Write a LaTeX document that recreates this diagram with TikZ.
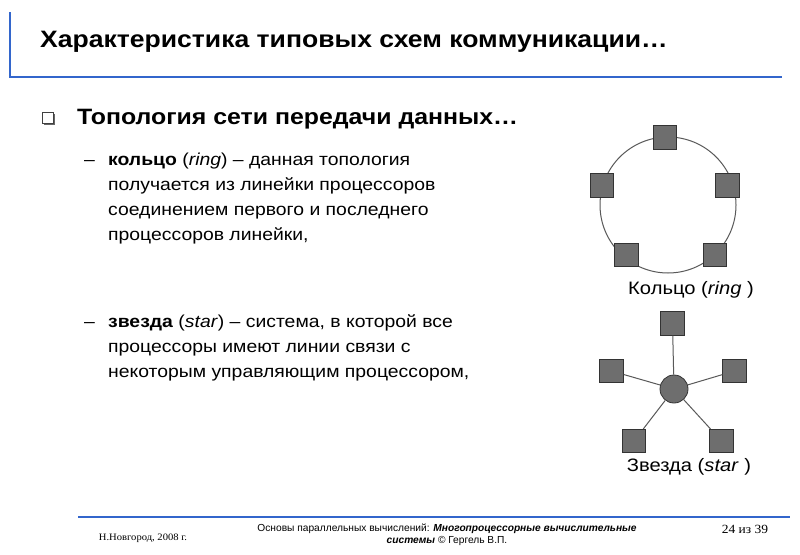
\documentclass[tikz,border=0pt]{standalone}
\usepackage{fontspec}
\setmainfont[FakeStretch=1.12]{Liberation Sans}
\newfontfamily\serifnf[FakeStretch=1.08]{Liberation Serif}
\newfontfamily\footsans{Liberation Sans}
\definecolor{slideblue}{RGB}{51,102,204}
\definecolor{boxgray}{RGB}{110,110,110}
\begin{document}
\begin{tikzpicture}[x=1pt,y=-1pt,
  proc/.style={draw=black!80, fill=boxgray, minimum size=23.5pt, inner sep=0pt, line width=0.8pt},
  hub/.style={circle, draw=black!80, fill=boxgray, minimum size=28pt, inner sep=0pt, line width=0.8pt},
  link/.style={draw=black!65, line width=1pt},
  body/.style={anchor=base west, inner sep=0pt, font=\fontsize{17.3}{20}\selectfont},
  caption/.style={inner sep=0pt, font=\fontsize{18}{21}\selectfont},
  rule/.style={draw=slideblue, line width=2.2pt}]
\useasboundingbox[fill=white] (0,0) rectangle (800,554);

% title
\draw[rule] (10,12) -- (10,77) -- (782,77);
\node[anchor=base west, inner sep=0pt, font=\bfseries\fontsize{23.7}{28}\selectfont] (title) at (40,47) {Характеристика типовых схем коммуникации…};

% subtitle with box bullet
\fill[black!60] (44,114) rectangle (55,125);
\draw[black!75, fill=white, line width=0.8pt] (42,112) rectangle (53,123);
\node[anchor=base west, inner sep=0pt, font=\bfseries\fontsize{22.2}{24}\selectfont] (sub) at (77,124) {Топология сети передачи данных…};

% ring text
\node[body] (d1) at (84,165) {–};
\node[body] (r1) at (108,165) {\textbf{кольцо} (\textit{ring}) – данная топология};
\node[body] (r2) at (108,190.5) {получается из линейки процессоров};
\node[body] (r3) at (108,215.5) {соединением первого и последнего};
\node[body] (r4) at (108,240.5) {процессоров линейки,};

% star text
\node[body] (d2) at (84,327) {–};
\node[body] (s1) at (108,327) {\textbf{звезда} (\textit{star}) – система, в которой все};
\node[body] (s2) at (108,352) {процессоры имеют линии связи с};
\node[body] (s3) at (108,377) {некоторым управляющим процессором,};

% ring diagram
\coordinate (rc) at (668,205);
\draw[link] (rc) circle[radius=68pt];
\node[proc] (ra) at (665,137.5) {};
\node[proc] (rb) at (602,185.5) {};
\node[proc] (rcn) at (727.5,185.5) {};
\node[proc] (rd) at (626.5,255) {};
\node[proc] (re) at (715,255) {};
\node[caption] (rlab) at (691,290) {Кольцо (\textit{ring} )};

% star diagram
\node[proc] (sa) at (672.5,323.5) {};
\node[proc] (sb) at (611.5,371) {};
\node[proc] (sc) at (734.5,371) {};
\node[proc] (sd) at (634,441) {};
\node[proc] (se) at (721.5,441) {};
\node[hub] (hub) at (674,389) {};
\foreach \t in {sa,sb,sc,sd,se} \draw[link] (hub) -- (\t);
\node[caption] (slab) at (689,467) {Звезда (\textit{star} )};

% footer
\draw[rule, line width=2.6pt] (78,517) -- (790,517);
\node[inner sep=0pt, font=\serifnf\fontsize{9.8}{12}\selectfont] (fl) at (143,538) {Н.Новгород, 2008 г.};
\node[inner sep=0pt, align=center, font=\footsans\fontsize{10.2}{12.5}\selectfont] (fc) at (447,535) {Основы параллельных вычислений: \textbf{\textit{Многопроцессорные вычислительные}}\\\textbf{\textit{системы}} © Гергель В.П.};
\node[inner sep=0pt, font=\serifnf\fontsize{12.5}{14}\selectfont] (fr) at (745,529) {24 из 39};
\end{tikzpicture}
\end{document}
